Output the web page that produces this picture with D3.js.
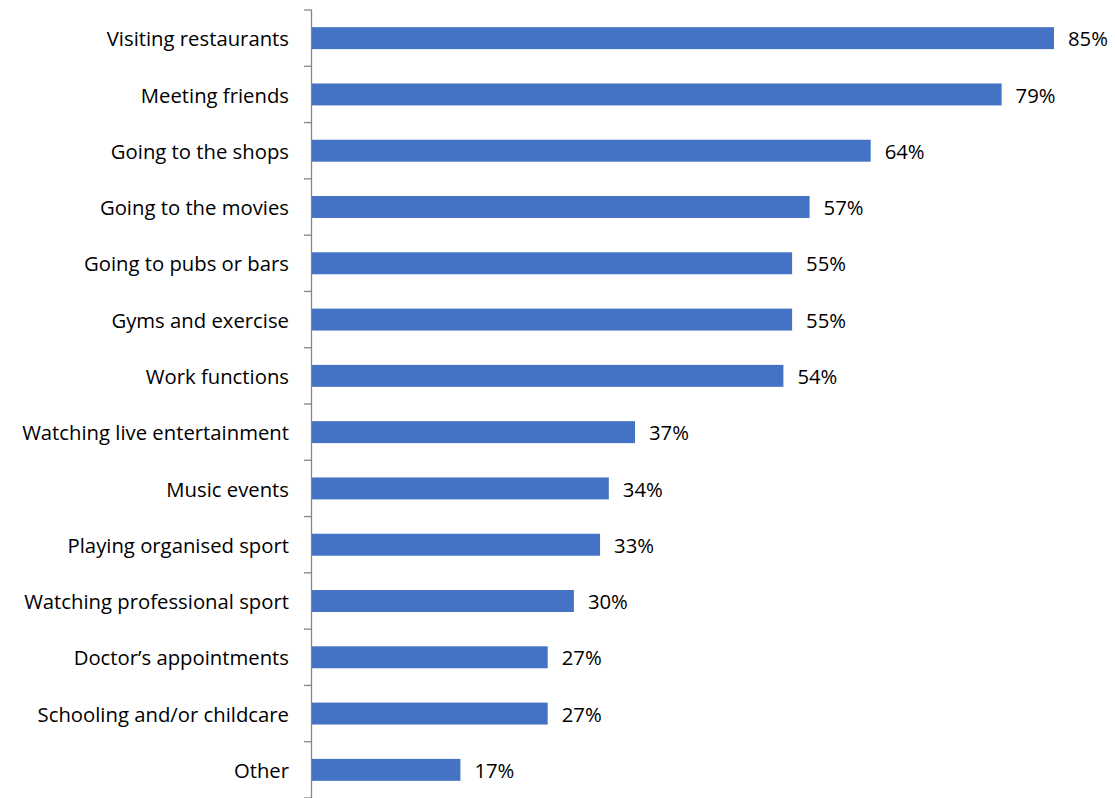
<!DOCTYPE html>
<meta charset="utf-8">
<style>
  body { margin: 0; background: #fff; }
  .cat { font-family: "Open Sans", sans-serif; font-size: 20.3px; fill: #000; text-anchor: end; }
  .val { font-family: "Open Sans", sans-serif; font-size: 20.3px; fill: #000; }
</style>
<svg width="1115" height="798"></svg>
<script src="https://cdn.jsdelivr.net/npm/d3@7"></script>
<script>

const categories = [
  "Visiting restaurants", "Meeting friends", "Going to the shops", "Going to the movies",
  "Going to pubs or bars", "Gyms and exercise", "Work functions", "Watching live entertainment",
  "Music events", "Playing organised sport", "Watching professional sport",
  "Doctor\u2019s appointments", "Schooling and/or childcare", "Other"
];
const values = [85, 79, 64, 57, 55, 55, 54, 37, 34, 33, 30, 27, 27, 17];

const svg = d3.select("svg");
const margin = {top: 10, left: 312};

const x = d3.scaleLinear()
  .domain([0, 85])
  .range([margin.left, 1054]);

const y = d3.scaleBand()
  .domain(categories)
  .range([margin.top, 798])
  .paddingInner(0.61)
  .paddingOuter(0.305);

// bars
svg.selectAll(".bar")
  .data(values)
  .join("rect")
  .attr("class", "bar")
  .attr("x", x(0))
  .attr("y", (d, i) => y(categories[i]))
  .attr("width", d => x(d) - x(0))
  .attr("height", y.bandwidth())
  .attr("fill", "#4472c4");

// value labels
svg.selectAll(".val")
  .data(values)
  .join("text")
  .attr("class", "val")
  .attr("x", d => x(d) + 14)
  .attr("y", (d, i) => y(categories[i]) + y.bandwidth() / 2 + 1)
  .attr("dy", "0.35em")
  .text(d => d + "%");

// axis: line with ticks at band boundaries
const bounds = d3.range(categories.length + 1).map(i => margin.top + i * (798 - margin.top) / categories.length);

svg.append("line")
  .attr("x1", x(0) - 0.5).attr("x2", x(0) - 0.5)
  .attr("y1", margin.top).attr("y2", 798)
  .attr("stroke", "#868686").attr("stroke-width", 1.3);

svg.selectAll(".tick")
  .data(bounds)
  .join("line")
  .attr("class", "tick")
  .attr("x1", x(0) - 8).attr("x2", x(0))
  .attr("y1", d => d).attr("y2", d => d)
  .attr("stroke", "#868686").attr("stroke-width", 1.3);

svg.selectAll(".cat")
  .data(categories)
  .join("text")
  .attr("class", "cat")
  .attr("x", 289)
  .attr("y", d => y(d) + y.bandwidth() / 2 + 1)
  .attr("dy", "0.35em")
  .text(d => d);

</script>
